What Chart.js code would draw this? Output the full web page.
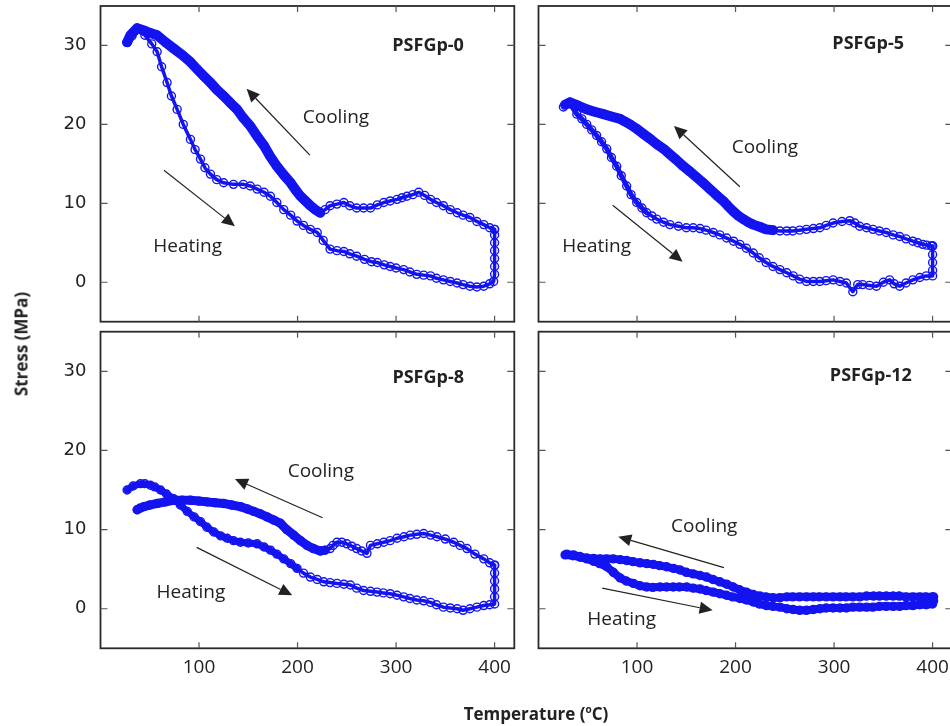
<!DOCTYPE html>
<html>
<head>
<meta charset="utf-8">
<script src="https://cdn.jsdelivr.net/npm/chart.js@4.4.0/dist/chart.umd.min.js"></script>
<style>
  html, body { margin: 0; padding: 0; background: #fff; overflow: hidden; width: 950px; height: 726px; }
  canvas { position: absolute; left: 0; top: 0; }
  .ylab { position: absolute; left: 21px; top: 344px; transform: translate(-50%, -50%) rotate(-90deg);
          font: bold 17px "Open Sans"; white-space: nowrap; color: #222; }
  .xlab { position: absolute; left: 536px; top: 713px; transform: translate(-50%, -50%);
          font: bold 17px "Open Sans"; white-space: nowrap; color: #222; }
  .xlab sup { font-size: 10px; }
</style>
</head>
<body>
<canvas id="c0" width="960" height="726"></canvas>
<canvas id="c5" width="960" height="726"></canvas>
<canvas id="c8" width="960" height="726"></canvas>
<canvas id="c12" width="960" height="726"></canvas>
<div class="ylab">Stress (MPa)</div>
<div class="xlab">Temperature (<sup>o</sup>C)</div>
<script>
// axis ticks
const xTicks = [100, 200, 300, 400];
const yTicks = [0, 10, 20, 30];

// PSFGp-0
const p0HeatT = [27, 32, 37, 45, 52, 57.5, 62, 67.6, 72, 77.8, 84, 91.3, 96, 101.5, 106, 111.6, 118, 125, 135, 145, 152, 159, 166, 172.5, 179, 186, 193, 199.5, 206, 213, 220, 226, 233, 240, 247, 253, 260, 268, 275, 281, 288, 294, 300, 307.7, 314, 321, 328, 335, 341, 348, 355, 362, 368, 375, 382, 389, 395, 399, 400, 400, 400, 400, 400, 400, 400];
const p0HeatS = [30.4, 31.2, 32.0, 31.3, 30.2, 29.2, 27.3, 25.3, 23.6, 21.9, 20.0, 18.1, 16.8, 15.6, 14.5, 13.7, 13.0, 12.6, 12.4, 12.4, 12.2, 11.8, 11.4, 10.9, 10.1, 9.2, 8.5, 7.75, 7.2, 6.7, 6.3, 5.3, 4.2, 4.0, 3.9, 3.6, 3.3, 2.9, 2.6, 2.5, 2.2, 2.0, 1.8, 1.6, 1.3, 1.0, 0.9, 0.8, 0.5, 0.3, 0.1, -0.1, -0.3, -0.5, -0.6, -0.5, -0.2, 0.1, 1.0, 2.0, 3.0, 4.0, 5.0, 6.0, 6.7];
const p0CoolT = [400, 395, 389, 382, 375, 368, 362, 355, 348, 341, 335, 329, 323, 317, 311, 306, 301, 294, 287.5, 281, 274, 267, 260, 253, 247, 240, 233, 228, 223, 218, 213, 208, 203, 198, 193, 186, 179, 172, 166, 159, 152, 145, 138.6, 132, 125, 118, 111.6, 105, 98, 91.3, 83, 74.4, 66, 57.5, 50, 44, 37.2, 30.4, 27];
const p0CoolS = [6.7, 6.9, 7.3, 7.7, 8.2, 8.5, 8.8, 9.2, 9.7, 10.1, 10.5, 11.0, 11.4, 11.1, 10.9, 10.7, 10.5, 10.3, 10.1, 9.8, 9.4, 9.4, 9.4, 9.7, 10.1, 9.9, 9.7, 9.2, 8.8, 9.2, 9.7, 10.3, 10.9, 11.7, 12.6, 13.6, 14.7, 16.0, 17.3, 18.5, 19.8, 20.8, 21.9, 22.7, 23.6, 24.4, 25.3, 26.1, 27.0, 27.9, 28.8, 29.6, 30.4, 31.3, 31.6, 31.9, 32.2, 31.3, 30.4];

// PSFGp-5
const p5HeatT = [25.3, 32, 38.9, 44, 49, 54, 59, 64, 69.3, 74, 79.4, 84, 89.5, 94, 99.7, 105, 109.8, 115, 120, 127, 133.4, 142, 150, 157, 164, 170, 177.4, 184, 191, 198, 204.4, 211, 218, 224, 231, 238, 245, 252, 258.5, 265, 272, 279, 285.5, 292, 299, 306, 312.5, 319, 324, 329, 336, 343, 350, 356.4, 361, 366.6, 373, 380, 387, 393.6, 400, 400, 400, 400, 400];
const p5HeatS = [22.2, 22.6, 21.3, 20.7, 20.0, 19.3, 18.6, 17.8, 16.9, 15.8, 14.7, 13.5, 12.2, 11.1, 10.1, 9.4, 8.8, 8.4, 8.0, 7.6, 7.3, 7.1, 6.9, 6.9, 6.8, 6.6, 6.3, 6.0, 5.6, 5.2, 4.8, 4.3, 3.7, 3.1, 2.5, 2.0, 1.6, 1.2, 0.8, 0.4, 0.1, 0.1, 0.1, 0.2, 0.3, 0.1, -0.1, -1.2, -0.3, -0.3, -0.4, -0.5, 0.0, 0.3, -0.2, -0.5, -0.1, 0.3, 0.6, 0.8, 0.8, 1.5, 2.5, 3.5, 4.6];
const p5CoolT = [400, 398.6, 394, 390, 385, 380, 373, 366.6, 360, 353, 346, 339.5, 333, 326, 321, 315.9, 308, 299, 292, 285.5, 279, 272, 265, 258, 252, 245, 238, 231, 225, 218, 213, 207.8, 203, 197.6, 192, 187.5, 181, 174, 167, 160.5, 154, 147, 140, 133.4, 127, 120, 113, 106.4, 99, 92.9, 87, 82.8, 74, 65.9, 57, 49, 40, 32, 27];
const p5CoolS = [4.6, 4.6, 4.7, 4.8, 5.0, 5.2, 5.5, 5.8, 6.0, 6.3, 6.5, 6.7, 6.9, 7.1, 7.5, 7.8, 7.7, 7.5, 7.2, 6.9, 6.8, 6.7, 6.6, 6.5, 6.5, 6.5, 6.6, 6.7, 7.0, 7.3, 7.6, 8.0, 8.4, 9.0, 9.7, 10.3, 11.0, 11.8, 12.6, 13.3, 14.0, 14.7, 15.5, 16.2, 16.9, 17.5, 18.2, 18.8, 19.5, 20.0, 20.4, 20.7, 21.0, 21.3, 21.6, 21.9, 22.4, 22.8, 22.5];

// PSFGp-8
const p8HeatT = [27, 33, 40.6, 45, 50.7, 55, 60.9, 67, 74.4, 81, 88, 95, 101.5, 108, 115, 122, 128.5, 135, 142, 150, 159, 166, 172.5, 179, 186, 193, 199.5, 206, 213, 220, 226.6, 233, 240, 247, 253.6, 260, 267, 274, 280.7, 287, 294, 301, 307.7, 314, 321, 328, 335, 341, 348, 355, 362, 368, 375, 382, 389, 395, 400, 400, 400, 400, 400, 400];
const p8HeatS = [15.0, 15.5, 15.8, 15.8, 15.6, 15.4, 15.0, 14.5, 13.9, 13.1, 12.3, 11.6, 11.0, 10.3, 9.7, 9.2, 8.9, 8.6, 8.4, 8.3, 8.2, 7.8, 7.4, 6.9, 6.3, 5.7, 5.1, 4.5, 4.0, 3.7, 3.4, 3.3, 3.2, 3.1, 3.0, 2.6, 2.3, 2.2, 2.1, 2.0, 1.9, 1.7, 1.5, 1.3, 1.1, 1.0, 0.8, 0.5, 0.2, 0.1, 0.0, -0.2, 0.0, 0.2, 0.4, 0.5, 0.6, 1.5, 2.5, 3.5, 4.5, 5.5];
const p8CoolT = [400, 395, 389, 380, 372, 365, 358.5, 350, 341.6, 335, 328, 321, 314.5, 308, 301, 294, 287.5, 281, 274, 270.5, 265, 260, 255, 250, 245, 240, 236, 233, 228, 223, 216, 209.7, 203, 196, 189, 182.6, 176, 169, 162, 155.5, 149, 142, 133, 125, 116, 108, 100, 91.3, 83, 74.4, 66, 57.5, 50, 44, 40, 37.2];
const p8CoolS = [5.5, 5.8, 6.3, 6.9, 7.6, 8.0, 8.4, 8.8, 9.1, 9.3, 9.5, 9.4, 9.3, 9.1, 8.9, 8.6, 8.4, 8.2, 8.0, 7.0, 7.3, 7.6, 7.9, 8.2, 8.4, 8.4, 8.0, 7.6, 7.4, 7.3, 7.6, 8.0, 8.6, 9.3, 10.0, 10.8, 11.2, 11.6, 12.0, 12.3, 12.6, 12.9, 13.1, 13.3, 13.4, 13.5, 13.6, 13.7, 13.7, 13.7, 13.5, 13.3, 13.1, 12.9, 12.7, 12.5];

// PSFGp-12
const p12HeatT = [27, 35, 42.2, 49, 55.7, 62, 69.3, 76, 82.8, 89, 96.3, 103, 109.8, 116, 123.3, 130, 136.8, 143, 150.3, 157, 163.9, 170, 177.4, 184, 190.9, 197, 204.4, 211, 217.9, 224, 231.4, 238, 245, 252, 258.4, 265, 272, 279, 285.5, 292, 299, 306, 312.5, 319, 326, 333, 339.5, 346, 353, 360, 366.6, 373, 380, 387, 393.6, 400, 401, 401];
const p12HeatS = [6.8, 6.7, 6.5, 6.3, 6.0, 5.7, 5.3, 4.6, 3.9, 3.5, 3.2, 2.9, 2.75, 2.7, 2.75, 2.75, 2.75, 2.75, 2.75, 2.6, 2.5, 2.3, 2.1, 1.9, 1.7, 1.5, 1.3, 1.1, 0.85, 0.6, 0.4, 0.3, 0.2, 0.0, -0.1, -0.2, -0.2, -0.1, 0.0, 0.1, 0.1, 0.1, 0.1, 0.2, 0.2, 0.2, 0.2, 0.3, 0.3, 0.3, 0.3, 0.4, 0.4, 0.5, 0.5, 0.6, 1.0, 1.5];
const p12CoolT = [400, 393, 387, 380, 373, 366, 360, 353, 346, 340, 333, 326, 319, 312, 306, 299, 292, 285, 279, 272, 265, 258, 252, 245, 238, 231, 224.7, 218, 211, 204, 197.6, 191, 184, 177, 170.6, 164, 157, 150, 143.6, 137, 130, 123, 116.6, 110, 103, 96, 89.5, 83, 76, 69, 62.5, 56, 49, 42, 35.5, 28.7];
const p12CoolS = [1.5, 1.5, 1.5, 1.5, 1.5, 1.6, 1.6, 1.6, 1.6, 1.6, 1.6, 1.5, 1.5, 1.5, 1.5, 1.5, 1.5, 1.5, 1.5, 1.5, 1.5, 1.5, 1.5, 1.4, 1.4, 1.5, 1.6, 1.8, 2.1, 2.4, 2.75, 3.1, 3.4, 3.7, 4.0, 4.2, 4.4, 4.6, 4.9, 5.1, 5.3, 5.45, 5.6, 5.7, 5.8, 5.95, 6.1, 6.2, 6.3, 6.3, 6.3, 6.35, 6.4, 6.6, 6.8, 6.9];

const BLUE = '#1414f0';
const INK = '#222';

function pts(t, s) {
    return t.map((v, i) => ({ x: v, y: s[i] }));
}

// denseTo: below this temperature the recorded points pile up into a solid band
function series(label, t, s, denseTo, denseW, thinW) {
    return {
        label: label,
        data: pts(t, s),
        showLine: true,
        borderColor: BLUE,
        borderWidth: thinW,
        segment: {
            borderWidth: c => (c.p1.parsed.x <= denseTo && c.p0.parsed.x <= denseTo ? denseW : thinW)
        },
        borderJoinStyle: 'round',
        borderCapStyle: 'round',
        pointStyle: 'circle',
        pointRadius: 4,
        pointBorderWidth: 1.4,
        pointBorderColor: BLUE,
        pointBackgroundColor: 'rgba(0,0,0,0)',
        tension: 0
    };
}

// frame with inward ticks on all sides, plus panel notes and arrows
const framePlugin = {
    id: 'frame',
    afterDatasetsDraw(chart, args, opts) {
        const { ctx, chartArea: a, scales: { x, y } } = chart;
        ctx.save();
        ctx.fillStyle = INK;
        ctx.textAlign = 'center';
        ctx.textBaseline = 'middle';
        (opts.notes || []).forEach(n => {
            ctx.font = n.bold ? 'bold 18px "Open Sans"' : '19px "Open Sans"';
            ctx.fillText(n.text, x.getPixelForValue(n.x), y.getPixelForValue(n.y));
        });
        ctx.strokeStyle = INK;
        ctx.lineWidth = 1.2;
        (opts.arrows || []).forEach(r => {
            const x1 = x.getPixelForValue(r[0]), y1 = y.getPixelForValue(r[1]);
            const x2 = x.getPixelForValue(r[2]), y2 = y.getPixelForValue(r[3]);
            const ang = Math.atan2(y2 - y1, x2 - x1);
            const hl = 13, hw = 6;
            const bx = x2 - hl * Math.cos(ang), by = y2 - hl * Math.sin(ang);
            ctx.beginPath();
            ctx.moveTo(x1, y1);
            ctx.lineTo(bx, by);
            ctx.stroke();
            ctx.beginPath();
            ctx.moveTo(x2, y2);
            ctx.lineTo(bx + hw * Math.sin(ang), by - hw * Math.cos(ang));
            ctx.lineTo(bx - hw * Math.sin(ang), by + hw * Math.cos(ang));
            ctx.closePath();
            ctx.fill();
        });

        ctx.strokeStyle = '#2a2a2a';
        ctx.lineWidth = 1.8;
        ctx.strokeRect(a.left, a.top, a.right - a.left, a.bottom - a.top);
        ctx.lineWidth = 1.2;
        ctx.strokeStyle = '#555';
        ctx.beginPath();
        x.ticks.forEach(t => {
            const px = x.getPixelForValue(t.value);
            ctx.moveTo(px, a.bottom); ctx.lineTo(px, a.bottom - 6);
            ctx.moveTo(px, a.top); ctx.lineTo(px, a.top + 6);
        });
        y.ticks.forEach(t => {
            const py = y.getPixelForValue(t.value);
            ctx.moveTo(a.left, py); ctx.lineTo(a.left + 7, py);
            ctx.moveTo(a.right, py); ctx.lineTo(a.right - 7, py);
        });
        ctx.stroke();
        ctx.restore();
    }
};

function makePanel(id, box, showX, showY, datasets, notes, arrows) {
    const [L, T, R, B] = box;
    const axisW = 40, axisH = 40;
    new Chart(document.getElementById(id), {
        type: 'scatter',
        data: { datasets: datasets },
        plugins: [framePlugin],
        options: {
            responsive: false,
            animation: false,
            events: [],
            layout: { padding: { left: L - axisW, top: T, right: 960 - R, bottom: 726 - B - axisH } },
            plugins: {
                legend: { display: false },
                tooltip: { enabled: false },
                frame: { notes: notes, arrows: arrows }
            },
            scales: {
                x: {
                    type: 'linear', min: 0, max: 420,
                    afterBuildTicks: s => { s.ticks = xTicks.map(v => ({ value: v })); },
                    afterFit: s => { s.height = axisH; s.paddingLeft = 0; s.paddingRight = 0; },
                    grid: { display: false, drawTicks: false },
                    border: { display: false },
                    ticks: { display: showX, color: INK, padding: 8, font: { family: 'Open Sans', size: 19 } }
                },
                y: {
                    type: 'linear', min: -5, max: 35,
                    afterBuildTicks: s => { s.ticks = yTicks.map(v => ({ value: v })); },
                    afterFit: s => { s.width = axisW; s.paddingTop = 0; s.paddingBottom = 0; },
                    grid: { display: false, drawTicks: false },
                    border: { display: false },
                    ticks: { display: showY, color: INK, padding: 14, font: { family: 'DejaVu Sans', size: 18 } }
                }
            }
        }
    });
}

makePanel('c0', [100.5, 6, 514.3, 321.7], false, true,
    [series('Heating', p0HeatT, p0HeatS, 0, 3.5, 3.5), series('Cooling', p0CoolT, p0CoolS, 226, 10, 3.5)],
    [{ text: 'PSFGp-0', x: 332.5, y: 30.0, bold: true }, { text: 'Cooling', x: 239, y: 20.8 }, { text: 'Heating', x: 88.5, y: 4.5 }],
    [[212.5, 16.1, 148.3, 24.5], [64.4, 14.2, 136.4, 7.1]]);

makePanel('c5', [538.5, 6, 952.3, 321.7], false, false,
    [series('Heating', p5HeatT, p5HeatS, 112, 5, 3.5), series('Cooling', p5CoolT, p5CoolS, 240, 10, 3.5)],
    [{ text: 'PSFGp-5', x: 334.6, y: 30.2, bold: true }, { text: 'Cooling', x: 229.8, y: 17.1 }, { text: 'Heating', x: 59, y: 4.5 }],
    [[204.4, 12.1, 137.5, 19.8], [75.3, 9.75, 146.3, 2.6]]);

makePanel('c8', [100.5, 331.7, 514.3, 648.3], true, true,
    [series('Heating', p8HeatT, p8HeatS, 200, 7, 3.5), series('Cooling', p8CoolT, p8CoolS, 232, 9, 3.5)],
    [{ text: 'PSFGp-8', x: 332.6, y: 29.2, bold: true }, { text: 'Cooling', x: 223.7, y: 17.3 }, { text: 'Heating', x: 91.8, y: 2.0 }],
    [[225.4, 11.5, 136.5, 16.4], [97.6, 7.75, 194.6, 1.7]]);

makePanel('c12', [538.5, 331.7, 952.3, 648.3], true, false,
    [series('Heating', p12HeatT, p12HeatS, 999, 8, 8), series('Cooling', p12CoolT, p12CoolS, 999, 8, 8)],
    [{ text: 'PSFGp-12', x: 337.3, y: 29.4, bold: true }, { text: 'Cooling', x: 168.2, y: 10.4 }, { text: 'Heating', x: 84.4, y: -1.4 }],
    [[188.2, 5.2, 81, 9.1], [64.7, 2.6, 176.7, -0.2]]);
</script>
</body>
</html>
